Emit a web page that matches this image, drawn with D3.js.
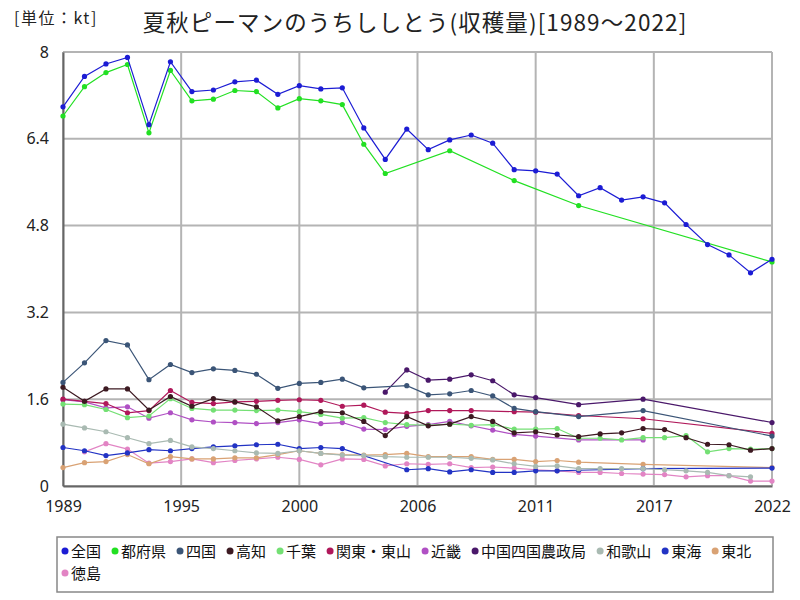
<!DOCTYPE html>
<html><head><meta charset="utf-8">
<script src="https://cdn.jsdelivr.net/npm/d3@7"></script>
<style>body{margin:0;background:#fff;}svg{display:block;font-family:"Noto Sans CJK JP","Noto Sans",sans-serif;}</style>
</head><body><svg id="c" width="800" height="600"></svg>
<script>
const years = d3.range(1989, 2023);
const tickYears = [1989, 1994.5, 2000, 2005.5, 2011, 2016.5, 2022];
const tickLabels = ["1989", "1995", "2000", "2006", "2011", "2017", "2022"];
const yTicks = [0, 1.6, 3.2, 4.8, 6.4, 8];
const yTickLabels = ["0", "1.6", "3.2", "4.8", "6.4", "8"];
const names = ["全国","都府県","四国","高知","千葉","関東・東山","近畿","中国四国農政局","和歌山","東海","東北","徳島"];
const colors = ["#1c1cd4","#22e022","#3b5577","#3d1a22","#74e074","#b0185a","#b050c4","#4a186a","#a9bab2","#2233c4","#d9a274","#e284c4"];
const N = null;
const s全国 = [6.99,7.55,7.78,7.90,6.66,7.82,7.27,7.30,7.45,7.48,7.22,7.38,7.32,7.34,6.60,6.02,6.58,6.20,6.38,6.47,6.32,5.83,5.81,5.75,5.35,5.50,5.27,5.33,5.22,4.82,4.45,4.26,3.93,4.18];
const s都府県 = [6.82,7.36,7.62,7.77,6.51,7.66,7.10,7.13,7.29,7.27,6.97,7.14,7.10,7.03,6.30,5.76,N,N,6.18,N,N,5.63,N,N,5.17,N,N,N,N,N,N,N,N,4.13];
const s四国 = [1.91,2.27,2.68,2.60,1.96,2.24,2.09,2.16,2.13,2.06,1.80,1.89,1.91,1.97,1.81,N,1.85,1.68,1.70,1.76,1.66,1.43,1.37,N,1.28,N,N,1.39,N,N,N,N,N,0.92];
const s高知 = [1.82,1.56,1.79,1.79,1.40,1.65,1.47,1.61,1.55,1.46,1.20,1.28,1.37,1.35,1.19,0.93,1.28,1.11,1.14,1.28,1.19,0.98,1.00,0.94,0.91,0.96,0.98,1.06,1.04,0.89,0.77,0.76,0.66,0.69];
const s千葉 = [1.51,1.50,1.41,1.26,1.29,1.61,1.43,1.40,1.40,1.39,1.40,1.37,1.32,1.25,1.26,1.17,1.13,1.12,1.14,1.12,1.13,1.05,1.05,1.06,0.88,0.88,0.85,0.89,0.89,0.93,0.63,0.69,0.68,0.69];
const s関東東山 = [1.60,1.56,1.52,1.35,1.39,1.76,1.54,1.52,1.55,1.56,1.58,1.59,1.58,1.47,1.49,1.36,1.34,1.39,1.39,1.39,N,1.37,1.36,N,1.30,N,N,1.24,N,N,N,N,N,0.97];
const s近畿 = [1.59,1.55,1.44,1.46,1.25,1.35,1.22,1.18,1.17,1.15,1.17,1.22,1.15,1.17,1.05,1.04,1.10,1.13,1.19,1.11,1.03,0.95,0.92,N,0.85,N,N,0.85,N,N,N,N,N,N];
const s中国四国農政局 = [N,N,N,N,N,N,N,N,N,N,N,N,N,N,N,1.73,2.14,1.95,1.97,2.05,1.94,1.68,1.63,N,1.50,N,N,1.60,N,N,N,N,N,1.17];
const s和歌山 = [1.14,1.07,1.00,0.89,0.78,0.84,0.72,0.69,0.65,0.61,0.60,0.65,0.60,0.57,0.56,0.54,0.53,0.53,0.53,0.51,0.48,0.41,0.36,0.37,0.32,0.32,0.32,0.32,0.30,0.28,0.25,0.19,0.17,N];
const s東海 = [0.71,0.65,0.56,0.61,0.67,0.65,0.69,0.72,0.74,0.76,0.77,0.69,0.71,0.69,N,N,0.30,0.32,0.26,0.30,0.25,0.25,0.28,0.28,0.29,N,N,0.32,N,N,N,N,N,0.33];
const s東北 = [0.34,0.43,0.45,0.58,0.41,0.54,0.50,0.50,0.52,0.52,0.58,0.65,0.60,0.58,0.57,0.58,0.60,0.54,0.54,0.54,0.49,0.49,0.45,0.47,0.44,N,N,0.40,N,N,N,N,N,0.34];
const s徳島 = [N,0.63,0.78,0.68,0.42,0.45,0.50,0.43,0.47,0.50,0.53,0.49,0.39,0.50,0.49,0.37,0.41,0.40,0.41,0.34,0.35,0.33,0.30,0.28,0.25,0.25,0.23,0.22,0.21,0.17,0.19,0.19,0.09,0.09];
const seriesValues = [s全国,s都府県,s四国,s高知,s千葉,s関東東山,s近畿,s中国四国農政局,s和歌山,s東海,s東北,s徳島];

const svg = d3.select("#c");
const L = 63, R = 772, T = 52, B = 486;
const x = d3.scaleLinear().domain([1989, 2022]).range([L, R]);
const y = d3.scaleLinear().domain([0, 8]).range([B, T]);

// grid
const g = svg.append("g");
g.selectAll(".vg").data(tickYears).enter().append("line")
  .attr("x1", d => x(d)).attr("x2", d => x(d)).attr("y1", T).attr("y2", B)
  .attr("stroke", "#b4b4b4").attr("stroke-width", 2);
g.selectAll(".hg").data(yTicks).enter().append("line")
  .attr("x1", L).attr("x2", R).attr("y1", d => y(d)).attr("y2", d => y(d))
  .attr("stroke", "#b4b4b4").attr("stroke-width", 2);

// axes
const xAxis = d3.axisBottom(x).tickValues(tickYears).tickFormat((d, i) => tickLabels[i]).tickSize(0).tickPadding(15);
const ax = svg.append("g").attr("transform", `translate(0,${B})`).call(xAxis);
ax.select(".domain").attr("stroke", "#666").attr("stroke-width", 2);
ax.selectAll("text").attr("font-size", 16).attr("fill", "#222").attr("font-family", "Noto Sans, sans-serif");
const yAxis = d3.axisLeft(y).tickValues(yTicks).tickFormat((d, i) => yTickLabels[i]).tickSize(0).tickPadding(14);
const ay = svg.append("g").attr("transform", `translate(${L},0)`).call(yAxis);
ay.select(".domain").attr("stroke", "#666").attr("stroke-width", 2);
ay.selectAll("text").attr("font-size", 16).attr("fill", "#222").attr("font-family", "Noto Sans, sans-serif");

// series
const line = d3.line().x(d => x(d.year)).y(d => y(d.v));
for (let i = names.length - 1; i >= 0; i--) {
  const pts = years.map((yr, j) => ({year: yr, v: seriesValues[i][j]})).filter(d => d.v != null);
  svg.append("path").datum(pts).attr("d", line).attr("fill", "none")
    .attr("stroke", colors[i]).attr("stroke-width", 1.2);
  svg.append("g").selectAll("circle").data(pts).enter().append("circle")
    .attr("cx", d => x(d.year)).attr("cy", d => y(d.v)).attr("r", 2.6).attr("fill", colors[i]);
}

// titles
svg.append("text").attr("x", 14).attr("y", 24).attr("font-size", 16).attr("letter-spacing", 1.5).attr("fill", "#222").text("[単位：kt]");
svg.append("text").attr("x", 415).attr("y", 31).attr("text-anchor", "middle").attr("font-size", 22.5).attr("letter-spacing", 1.1).attr("fill", "#222")
  .text("夏秋ピーマンのうちししとう(収穫量)[1989～2022]");

// legend
const lg = svg.append("g");
lg.append("rect").attr("x", 57).attr("y", 537).attr("width", 716).attr("height", 55)
  .attr("fill", "#fff").attr("stroke", "#888").attr("stroke-width", 1.5);
let lx = 65, ly = 551;
names.forEach((n, i) => {
  const item = lg.append("g");
  item.append("circle").attr("cx", 0).attr("cy", 0).attr("r", 3.5).attr("fill", colors[i]);
  const t = item.append("text").attr("x", 6).attr("y", 5.5).attr("font-size", 15).attr("fill", "#111").text(n);
  const w = t.node().getComputedTextLength() + 20;
  if (lx + w > 770) { lx = 65; ly += 22; }
  item.attr("transform", `translate(${lx},${ly})`);
  lx += w;
});
</script></body></html>
